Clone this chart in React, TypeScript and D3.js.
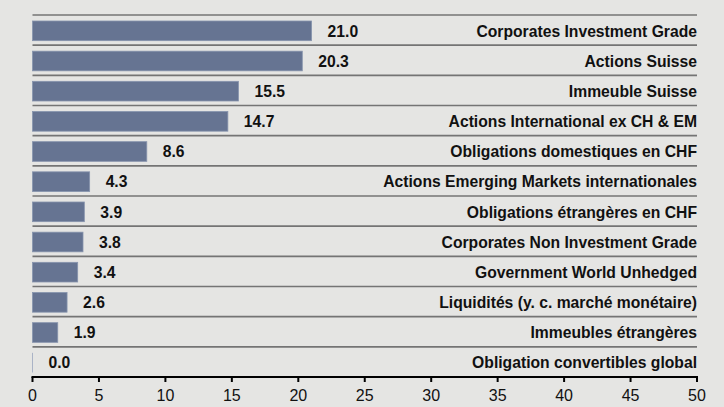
import React from "react";
import * as d3 from "d3";

const categories = [
  "Corporates Investment Grade",
  "Actions Suisse",
  "Immeuble Suisse",
  "Actions International ex CH & EM",
  "Obligations domestiques en CHF",
  "Actions Emerging Markets internationales",
  "Obligations étrangères en CHF",
  "Corporates Non Investment Grade",
  "Government World Unhedged",
  "Liquidités (y. c. marché monétaire)",
  "Immeubles étrangères",
  "Obligation convertibles global",
];
const values = [21.0, 20.3, 15.5, 14.7, 8.6, 4.3, 3.9, 3.8, 3.4, 2.6, 1.9, 0.0];
const xTicks = [0, 5, 10, 15, 20, 25, 30, 35, 40, 45, 50];

const W = 724;
const H = 407;
const left = 32.5;
const right = 697;
const top = 15;
const bottom = 377;

export default function App() {
  const x = d3.scaleLinear().domain([0, 50]).range([left, right]);
  const y = d3.scaleBand<string>().domain(categories).range([top, bottom]);
  const bw = y.bandwidth();
  const font = "'Liberation Sans', Arial, sans-serif";
  return (
    <svg
      width={W}
      height={H}
      style={{ position: "absolute", left: 0, top: 0, background: "#e5e5e3" }}
      fontFamily={font}
    >
      <rect x={0} y={0} width={W} height={H} fill="#e5e5e3" />
      {categories.map((c, i) => {
        const y0 = y(c)!;
        const v = values[i];
        const barY = y0 + 6;
        const barH = bw - 10.5;
        return (
          <g key={c}>
            <line x1={left} x2={right} y1={y0} y2={y0} stroke="#747474" strokeWidth={1.6} />
            {v > 0 ? (
              <rect
                x={x(0)}
                y={barY}
                width={x(v) - x(0)}
                height={barH}
                fill="#667492"
                stroke="#8794ad"
                strokeWidth={0.8}
              />
            ) : (
              <line x1={x(0)} x2={x(0)} y1={barY} y2={barY + barH} stroke="#aab3c6" strokeWidth={1} />
            )}
            <text
              x={x(v) + 16}
              y={y0 + bw / 2 + 6.5}
              fontSize={15.7}
              fontWeight="bold"
              fill="#111"
            >
              {v.toFixed(1)}
            </text>
            <text
              x={right}
              y={y0 + bw / 2 + 6.5}
              fontSize={15.7}
              fontWeight="bold"
              fill="#111"
              textAnchor="end"
            >
              {c}
            </text>
          </g>
        );
      })}
      <line x1={left - 1} x2={right + 1} y1={bottom} y2={bottom} stroke="#000" strokeWidth={2} />
      {xTicks.map((t) => (
        <g key={t}>
          <line x1={x(t)} x2={x(t)} y1={bottom} y2={bottom + 5} stroke="#000" strokeWidth={2} />
          <text x={x(t)} y={bottom + 24} fontSize={16} textAnchor="middle" fill="#111">
            {t}
          </text>
        </g>
      ))}
    </svg>
  );
}
